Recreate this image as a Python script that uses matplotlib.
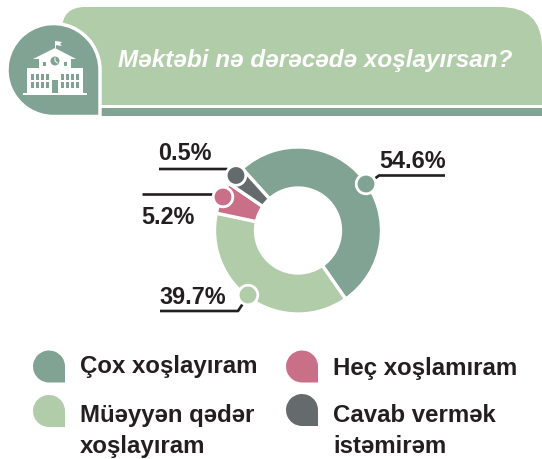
"""Donut chart of how much pupils like school."""
import matplotlib
matplotlib.use("Agg")
import matplotlib.pyplot as plt
from matplotlib.patches import Circle, PathPatch, Polygon, Rectangle
from matplotlib.path import Path

WIDTH, HEIGHT = 542, 459
GREEN = "#81a394"
LIGHT = "#b0cca8"
PINK = "#c96f88"
GREY = "#656b6c"
INK = "#231f20"

title = "Məktəbi nə dərəcədə xoşlayırsan?"
percent_labels = ["54.6%", "39.7%", "5.2%", "0.5%"]
# shares as the slices are drawn, the printed figures differ a little
drawn_shares = [52.0, 38.0, 6.2, 3.8]
slice_colors = [GREEN, LIGHT, PINK, GREY]
legend_labels = ["Çox xoşlayıram", "Müəyyən qədər\nxoşlayıram", "Heç xoşlamıram", "Cavab vermək\nistəmirəm"]

plt.rcParams["font.family"] = ["Liberation Sans", "DejaVu Sans"]


def y(py):
    return HEIGHT - py


def teardrop(ax, cx, cy, r, color, edge="none", lw=0, zorder=3):
    """Circle with a square bottom right corner."""
    arc = Path.arc(0, 270)
    verts = [(cx + vx * r, y(cy) + vy * r) for vx, vy in arc.vertices]
    codes = list(arc.codes)
    verts += [(cx + r, y(cy) - r), (cx + r, y(cy))]
    codes += [Path.LINETO, Path.CLOSEPOLY]
    ax.add_patch(PathPatch(Path(verts, codes), fc=color, ec=edge, lw=lw, zorder=zorder))


fig = plt.figure(figsize=(WIDTH / 100, HEIGHT / 100), dpi=100)
ax = fig.add_axes([0, 0, 1, 1])

# donut
ax.pie(drawn_shares, colors=slice_colors, startangle=132, counterclock=False,
       center=(298, y(230.5)), radius=83.5, frame=True,
       wedgeprops=dict(width=41, edgecolor="white", linewidth=2.4))

# header band
header = Path(
    [(62, y(105)), (62, y(30)), (62, y(7)), (85, y(7)), (500, y(7)), (542, y(7)), (542, y(48)), (542, y(105)), (62, y(105))],
    [Path.MOVETO, Path.LINETO, Path.CURVE3, Path.CURVE3, Path.LINETO, Path.CURVE3, Path.CURVE3, Path.LINETO, Path.CLOSEPOLY],
)
ax.add_patch(PathPatch(header, fc=LIGHT, ec="none", zorder=1))
ax.add_patch(Rectangle((96, y(115.5)), 446, 7.5, fc=GREEN, ec="none", zorder=1))
ax.text(315, y(61), title, color="white", fontsize=17.5, fontweight="bold", fontstyle="italic",
        ha="center", va="center", zorder=2)
teardrop(ax, 53.5, 70, 46.5, GREEN, edge="white", lw=2.5)

# school icon
ax.add_patch(Rectangle((23, y(95)), 64, 2.5, fc="white", ec="none", zorder=4))
ax.add_patch(Rectangle((27, y(93)), 56, 25, fc="white", ec="none", zorder=4))
ax.add_patch(Rectangle((39, y(69)), 32, 11, fc="white", ec="none", zorder=4))
ax.add_patch(Polygon([(33, y(59)), (55, y(48)), (76, y(59))], fc="white", ec="none", zorder=4))
ax.add_patch(Rectangle((54.5, y(48)), 1, 7, fc="white", ec="none", zorder=4))
ax.add_patch(Polygon([(55.5, y(41)), (62, y(42)), (60, y(44)), (62, y(46)), (55.5, y(45))],
                     fc="white", ec="none", zorder=4))
ax.add_patch(Circle((55, y(61)), 4.5, fc=GREEN, ec="none", zorder=5))
ax.plot([55, 55, 57.5], [y(58), y(61), y(63)], color="white", lw=0.7, zorder=6)
ax.add_patch(Rectangle((52, y(93)), 6, 13, fc=GREEN, ec="none", zorder=5))
for wx in [31, 36, 41, 46, 61, 66, 71, 76]:
    for wy in [80, 88]:
        ax.add_patch(Rectangle((wx, y(wy)), 3, 6, fc=GREEN, ec="none", zorder=5))
for wx in [43, 64]:
    ax.add_patch(Rectangle((wx, y(66)), 3, 4, fc=GREEN, ec="none", zorder=5))

# leaders, markers and percent labels
leaders = [
    [(445, 175.5), (379, 175.5), (366, 185)],
    [(160, 311), (238, 311), (248, 296)],
    [(142, 194), (214, 194)],
    [(159, 169), (227, 169), (236, 175)],
]
markers = [(366, 184, GREEN), (248, 295, LIGHT), (223, 197, PINK), (236, 175.5, GREY)]
label_pos = [(413, 162), (193, 298), (168, 217), (185, 154)]
for line, (mx, my, col), (tx, ty), text in zip(leaders, markers, label_pos, percent_labels):
    ax.plot([p[0] for p in line], [y(p[1]) for p in line], color=INK, lw=1.9, zorder=4,
            solid_capstyle="butt")
    ax.add_patch(Circle((mx, y(my)), 9.8, fc=col, ec="white", lw=2, zorder=5))
    ax.text(tx, y(ty), text, color=INK, fontsize=16.8, fontweight="bold", ha="center", va="center")

# legend
legend_marks = [(49, 366.5, GREEN), (49, 411, LIGHT), (302, 366.5, PINK), (302, 410, GREY)]
legend_text = [(80, 367), (80, 404), (333, 369), (333, 404)]
for (lx, ly, col), (tx, ty), text in zip(legend_marks, legend_text, legend_labels):
    teardrop(ax, lx, ly, 16, col)
    ax.text(tx, y(ty), text, color=INK, fontsize=17.3, fontweight="bold", ha="left",
            va="center" if "\n" not in text else "top", linespacing=1.45)

ax.set_xlim(0, WIDTH)
ax.set_ylim(0, HEIGHT)
ax.set_aspect("auto")
ax.axis("off")
fig.savefig("out.png", dpi=100)
plt.close(fig)
